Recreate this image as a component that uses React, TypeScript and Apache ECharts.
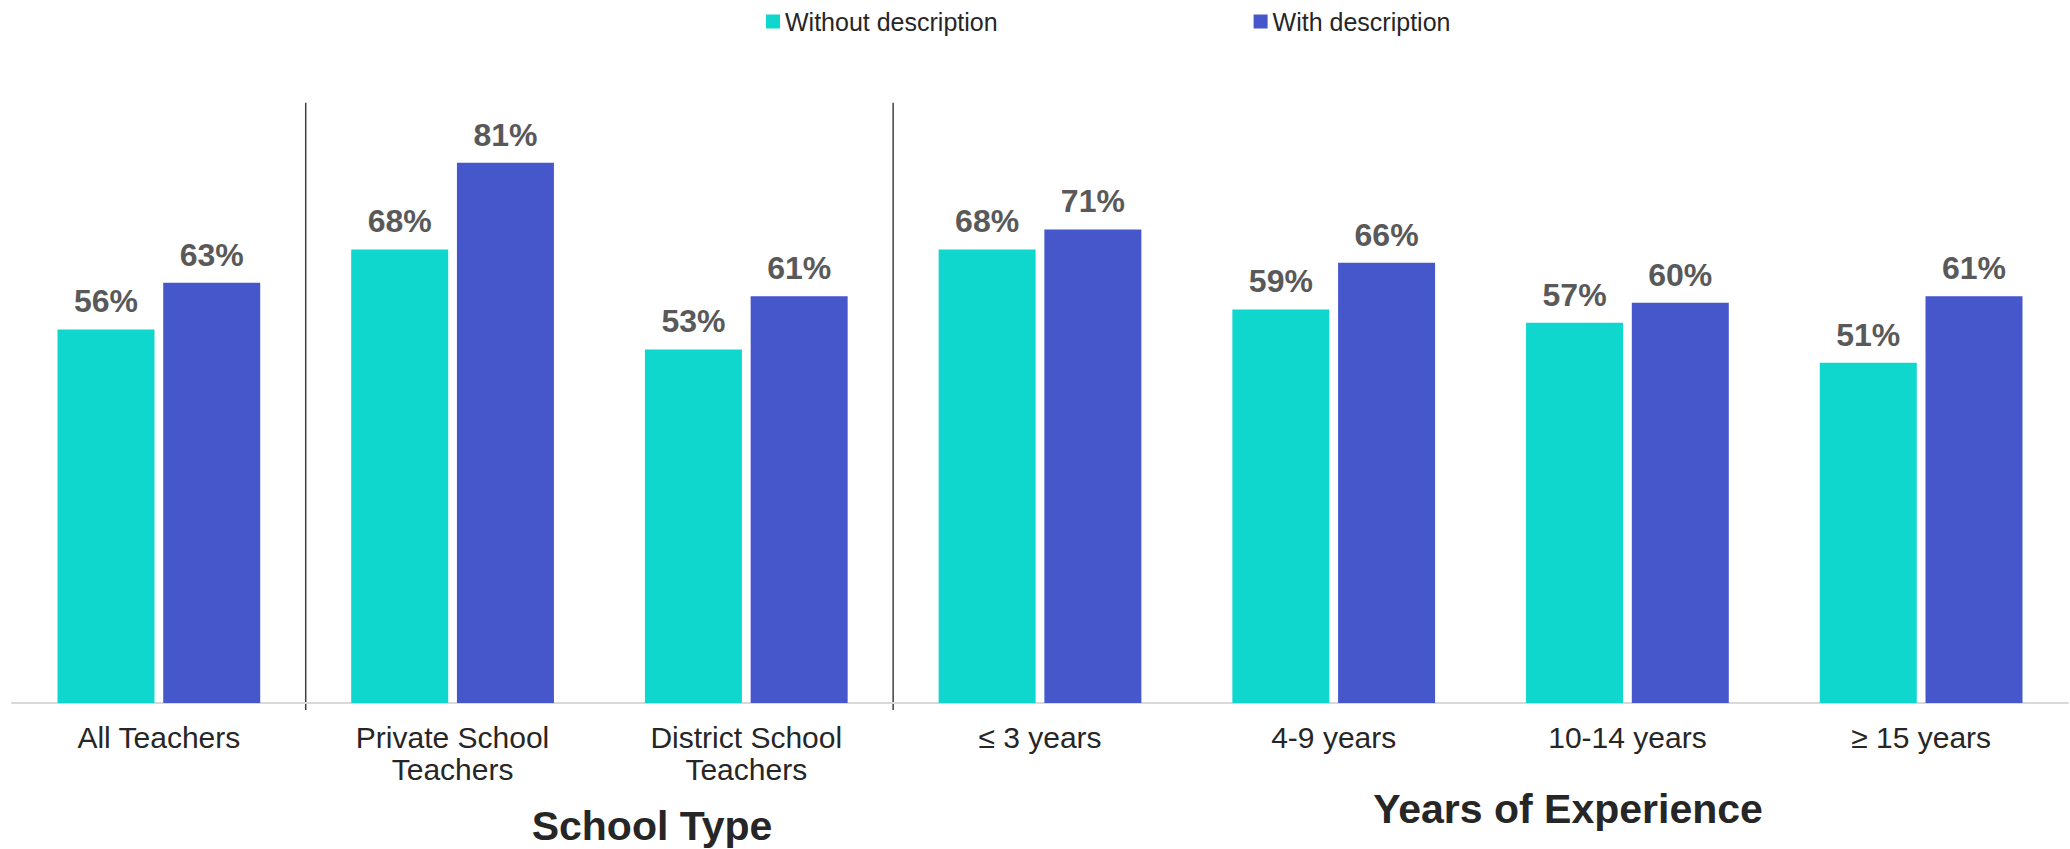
import React, { useEffect, useRef } from "react";
import * as echarts from "echarts";

const categories = [
  "All Teachers",
  "Private School\nTeachers",
  "District School\nTeachers",
  "≤ 3 years",
  "4-9 years",
  "10-14 years",
  "≥ 15 years",
];
const withoutDescription = [56, 68, 53, 68, 59, 57, 51];
const withDescription = [63, 81, 61, 71, 66, 60, 61];
const seriesNames = ["Without description", "With description"];
const dividerAfter = [0, 2];
const groupTitles = [
  { text: "School Type", x: 652, y: 826 },
  { text: "Years of Experience", x: 1568, y: 809 },
];

const FONT = '"Liberation Sans", Arial, sans-serif';
const TEAL = "#0FD7CD";
const BLUE = "#4657CC";

export default function App() {
  const ref = useRef<HTMLDivElement>(null);

  useEffect(() => {
    if (!ref.current) return;
    const chart = echarts.init(ref.current, null, { renderer: "svg" });
    const labelCfg = {
      show: true,
      position: "top",
      distance: 12,
      formatter: "{c}%",
      fontSize: 32,
      fontWeight: "bold",
      fontFamily: FONT,
      color: "#595959",
    };
    chart.setOption({
      animation: false,
      textStyle: { fontFamily: FONT },
      legend: {
        data: seriesNames,
        top: 9,
        left: 766,
        padding: 0,
        itemWidth: 14,
        itemHeight: 14,
        itemGap: 256,
        icon: "rect",
        textStyle: { fontSize: 25, color: "#262626", fontFamily: FONT },
      },
      grid: { left: 12, right: 2, top: 36, bottom: 146, containLabel: false },
      xAxis: {
        type: "category",
        data: categories,
        axisLine: { show: true, lineStyle: { color: "#D9D9D9", width: 2 } },
        axisTick: { show: false },
        axisLabel: {
          interval: 0,
          margin: 18,
          fontSize: 30,
          lineHeight: 32,
          color: "#262626",
          fontFamily: FONT,
        },
      },
      yAxis: {
        type: "value",
        min: 0,
        max: 100,
        show: false,
        splitLine: { show: false },
      },
      series: [
        {
          name: seriesNames[0],
          type: "bar",
          data: withoutDescription,
          barWidth: 97,
          barGap: "9%",
          itemStyle: { color: TEAL },
          label: labelCfg,
        },
        {
          name: seriesNames[1],
          type: "bar",
          data: withDescription,
          barWidth: 97,
          barGap: "9%",
          itemStyle: { color: BLUE },
          label: labelCfg,
        },
      ],
    });

    const yTop = chart.convertToPixel({ yAxisIndex: 0 }, 90) as number;
    const yBase = chart.convertToPixel({ yAxisIndex: 0 }, 0) as number;
    const lines = dividerAfter.map((i) => {
      const a = chart.convertToPixel({ xAxisIndex: 0 }, i) as number;
      const b = chart.convertToPixel({ xAxisIndex: 0 }, i + 1) as number;
      const x = (a + b) / 2;
      return {
        type: "line",
        shape: { x1: x, y1: yTop, x2: x, y2: yBase + 7 },
        style: { stroke: "#404040", lineWidth: 1.5 },
        silent: true,
      };
    });
    const titles = groupTitles.map((t) => ({
      type: "text",
      x: t.x,
      y: t.y,
      style: {
        text: t.text,
        font: `bold 41px ${FONT}`,
        fill: "#262626",
        textAlign: "center",
        textVerticalAlign: "middle",
      },
      silent: true,
    }));
    chart.setOption({ graphic: [...lines, ...titles] });

    return () => chart.dispose();
  }, []);

  return (
    <div
      ref={ref}
      style={{ position: "fixed", left: 0, top: 0, width: 2070, height: 849, background: "#fff" }}
    />
  );
}
